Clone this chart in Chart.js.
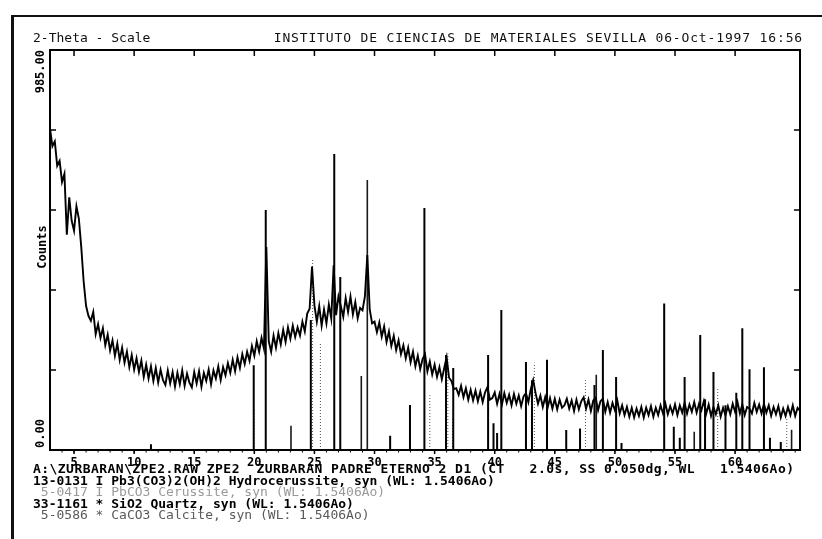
<!DOCTYPE html>
<html>
<head>
<meta charset="utf-8">
<script src="https://cdn.jsdelivr.net/npm/chart.js@4.4.1/dist/chart.umd.min.js"></script>
<style>
  body { margin: 0; background: #fff; }
  #page { position: relative; width: 822px; height: 539px; overflow: hidden; background: #fff; }
  #frame { position: absolute; left: 11px; top: 15px; width: 900px; height: 600px;
           border-left: 3px solid #111; border-top: 2px solid #111; }
  #wrap { position: absolute; left: 0; top: 0; width: 822px; height: 539px; }
  .hdr { position: absolute; top: 30px; font: 13px "DejaVu Sans Mono", monospace; line-height: 15px;
         color: #111; white-space: pre; }
  #notes { position: absolute; left: 33px; top: 463px; font: 13px "DejaVu Sans Mono", monospace;
           line-height: 11.6px; white-space: pre; color: #000; }
  #notes .b { font-weight: bold; }
  #notes .faint { color: #9a9a9a; }
  #notes .grey { color: #5a5a5a; }
</style>
</head>
<body>
<div id="page">
  <div id="frame"></div>
  <div id="wrap"><canvas id="xrd"></canvas></div>
  <div class="hdr" style="left:33px">2-Theta - Scale</div>
  <div class="hdr" style="right:19px; letter-spacing:0.85px">INSTITUTO DE CIENCIAS DE MATERIALES SEVILLA 06-Oct-1997 16:56</div>
  <div id="notes"><div class="b" style="letter-spacing:0.45px">A:\ZURBARAN\ZPE2.RAW ZPE2  ZURBARAN PADRE ETERNO 2 D1 (CT   2.0s, SS 0.050dg, WL   1.5406Ao)</div><div class="b">13-0131 I Pb3(CO3)2(OH)2 Hydrocerussite, syn (WL: 1.5406Ao)</div><div class="faint"> 5-0417 I PbCO3 Cerussite, syn (WL: 1.5406Ao)</div><div class="b">33-1161 * SiO2 Quartz, syn (WL: 1.5406Ao)</div><div class="grey"> 5-0586 * CaCO3 Calcite, syn (WL: 1.5406Ao)</div></div>
</div>
<script>
// scan: 2-theta start and step, counts per step (one row per degree)
var scanStart = 3.0;
var scanStep = 0.2;
var counts = [
  792, 748, 760, 700, 712,
  660, 680, 530, 622, 565,
  540, 600, 570, 500, 415,
  355, 330, 318, 340, 285,
  310, 276, 300, 258, 284,
  245, 270, 232, 262, 222,
  252, 215, 242, 204, 234,
  198, 226, 192, 220, 180,
  210, 176, 206, 170, 202,
  166, 198, 172, 160, 196,
  164, 192, 156, 190, 162,
  196, 158, 188, 166, 154,
  192, 164, 194, 156, 190,
  170, 198, 162, 196, 176,
  206, 172, 204, 184, 214,
  190, 222, 194, 228, 202,
  236, 212, 242, 220, 256,
  232, 268, 242, 276, 250,
  500, 268, 242, 282, 252,
  288, 260, 296, 266, 302,
  274, 306, 278, 302, 282,
  316, 292, 336, 348, 452,
  356, 316, 354, 306, 346,
  312, 358, 324, 455, 332,
  378, 354, 328, 374, 340,
  378, 334, 364, 324, 350,
  344, 378, 480, 346, 312,
  316, 290, 314, 279, 304,
  266, 292, 256, 281, 246,
  270, 236, 258, 226, 252,
  216, 242, 206, 232, 199,
  224, 236, 194, 218, 186,
  210, 180, 204, 174, 202,
  228, 178, 170, 150, 152,
  136, 158, 130, 152, 124,
  148, 122, 146, 120, 144,
  118, 142, 155, 124, 128,
  142, 114, 138, 112, 140,
  116, 136, 110, 138, 114,
  134, 108, 132, 140, 118,
  150, 172, 140, 114, 134,
  106, 130, 104, 128, 102,
  126, 100, 124, 104, 110,
  126, 102, 122, 96, 124,
  100, 120, 130, 102, 124,
  96, 122, 128, 98, 120,
  126, 94, 118, 92, 116,
  98, 122, 90, 110, 86,
  106, 82, 104, 80, 102,
  84, 106, 80, 104, 86,
  108, 82, 104, 86, 110,
  90, 114, 88, 108, 90,
  112, 86, 110, 92, 116,
  90, 112, 94, 118, 92,
  114, 98, 120, 90, 112,
  84, 106, 88, 110, 82,
  104, 86, 108, 88, 114,
  94, 118, 90, 112, 86,
  106, 102, 90, 116, 94,
  112, 90, 114, 92, 110,
  84, 106, 88, 108, 80,
  102, 84, 106, 86, 110,
  84, 104, 96
];

// reference patterns (2-theta, stick height in counts)
var hydroPos = [11.4, 19.95, 24.7, 27.15, 31.3, 32.95, 34.15, 39.9, 40.55, 43.1, 44.35, 47.1, 48.3, 49.0, 54.1, 55.8, 57.1, 57.5, 58.2, 60.6, 61.2, 62.4, 62.9, 63.8];
var hydroH   = [14, 209, 320, 426, 35, 111, 596, 66, 345, 172, 222, 53, 160, 246, 361, 180, 283, 125, 192, 300, 199, 204, 30, 20];
var cerussitePos = [19.98, 24.85, 25.5, 34.6, 36.1, 36.5, 43.3, 47.55, 58.55, 64.3];
var cerussiteH   = [103, 468, 263, 135, 238, 79, 215, 172, 150, 80];
var quartzPos = [20.95, 26.65, 35.95, 36.55, 39.45, 40.2, 42.6, 45.95, 50.1, 50.55, 54.9, 55.4, 59.2, 60.1];
var quartzH   = [591, 729, 234, 202, 234, 42, 217, 49, 180, 17, 57, 30, 110, 141];
var calcitePos = [23.05, 28.9, 29.4, 48.45, 56.6, 64.7];
var calciteH   = [60, 182, 665, 185, 45, 50];

var xTickLabels = [5, 10, 15, 20, 25, 30, 35, 40, 45, 50, 55, 60];
var yTickValues = [0, 197, 394, 591, 788, 985];
var yMax = 985;

var trace = counts.map(function (c, i) {
  return { x: +(scanStart + i * scanStep).toFixed(2), y: c };
});

// each stick is a vertical segment from 0 up to its height, with a gap after it
function sticks(pos, h) {
  var pts = [];
  pos.forEach(function (p, i) {
    pts.push({ x: p, y: 0 }, { x: p, y: h[i] }, { x: p, y: null });
  });
  return pts;
}

var monoBold = 'bold 12px "DejaVu Sans Mono", monospace';

var frameTicks = {
  id: 'frameTicks',
  afterDraw: function (chart) {
    var ctx = chart.ctx, a = chart.chartArea;
    var xs = chart.scales.x, ys = chart.scales.y;
    ctx.save();
    ctx.strokeStyle = '#000';
    ctx.lineWidth = 2;
    ctx.strokeRect(a.left, a.top, a.right - a.left, a.bottom - a.top);

    ctx.lineWidth = 1.5;
    ctx.beginPath();
    xTickLabels.forEach(function (v) {
      var px = xs.getPixelForValue(v);
      ctx.moveTo(px, a.top); ctx.lineTo(px, a.top + 6);
      ctx.moveTo(px, a.bottom); ctx.lineTo(px, a.bottom + 4);
    });
    yTickValues.forEach(function (v) {
      var py = ys.getPixelForValue(v);
      ctx.moveTo(a.left, py); ctx.lineTo(a.left + 6, py);
      ctx.moveTo(a.right, py); ctx.lineTo(a.right - 6, py);
    });
    ctx.stroke();

    // minor ticks every degree under the axis
    ctx.lineWidth = 1;
    ctx.beginPath();
    for (var d = 4; d <= 65; d++) {
      var mx = xs.getPixelForValue(d);
      ctx.moveTo(mx, a.bottom); ctx.lineTo(mx, a.bottom + 2.5);
    }
    ctx.stroke();

    // rotated y labels
    ctx.fillStyle = '#000';
    ctx.font = monoBold;
    ctx.textBaseline = 'middle';
    var lx = a.left - 9;
    ctx.save();
    ctx.translate(lx, ys.getPixelForValue(yMax));
    ctx.rotate(-Math.PI / 2);
    ctx.textAlign = 'right';
    ctx.fillText('985.00', 0, 0);
    ctx.restore();

    ctx.save();
    ctx.translate(lx, ys.getPixelForValue(0) - 2);
    ctx.rotate(-Math.PI / 2);
    ctx.textAlign = 'left';
    ctx.fillText('0.00', 0, 0);
    ctx.restore();

    ctx.save();
    ctx.translate(lx + 2, ys.getPixelForValue(yMax / 2) - 3);
    ctx.rotate(-Math.PI / 2);
    ctx.textAlign = 'center';
    ctx.fillText('Counts', 0, 0);
    ctx.restore();

    ctx.restore();
  }
};

var chart = new Chart(document.getElementById('xrd'), {
  type: 'line',
  data: {
    datasets: [{
      label: 'ZPE2',
      data: trace,
      borderColor: '#000',
      borderWidth: 1.9,
      pointRadius: 0,
      tension: 0
    }, {
      label: '13-0131',
      data: sticks(hydroPos, hydroH),
      borderColor: '#000',
      borderWidth: 2,
      pointRadius: 0,
      spanGaps: false
    }, {
      label: '33-1161',
      data: sticks(quartzPos, quartzH),
      borderColor: '#000',
      borderWidth: 2,
      pointRadius: 0,
      spanGaps: false
    }, {
      label: '5-0586',
      data: sticks(calcitePos, calciteH),
      borderColor: '#1a1a1a',
      borderWidth: 1.6,
      pointRadius: 0,
      spanGaps: false
    }, {
      label: '5-0417',
      data: sticks(cerussitePos, cerussiteH),
      borderColor: '#555',
      borderWidth: 1,
      borderDash: [1, 2],
      pointRadius: 0,
      spanGaps: false
    }]
  },
  options: {
    responsive: true,
    maintainAspectRatio: false,
    animation: false,
    events: [],
    layout: { padding: { left: 50, right: 22, top: 50, bottom: 64 } },
    plugins: { legend: { display: false }, tooltip: { enabled: false } },
    scales: {
      x: {
        type: 'linear',
        min: 3,
        max: 65.4,
        afterBuildTicks: function (s) {
          s.ticks = xTickLabels.map(function (v) { return { value: v }; });
        },
        afterFit: function (s) { s.height = 25; },
        grid: { display: false, drawTicks: false },
        border: { display: false },
        ticks: {
          autoSkip: false,
          maxRotation: 0,
          padding: 6,
          color: '#000',
          font: { family: 'DejaVu Sans Mono', size: 12, weight: 'bold' }
        }
      },
      y: {
        type: 'linear',
        min: 0,
        max: yMax,
        display: false
      }
    }
  },
  plugins: [frameTicks]
});
</script>
</body>
</html>
